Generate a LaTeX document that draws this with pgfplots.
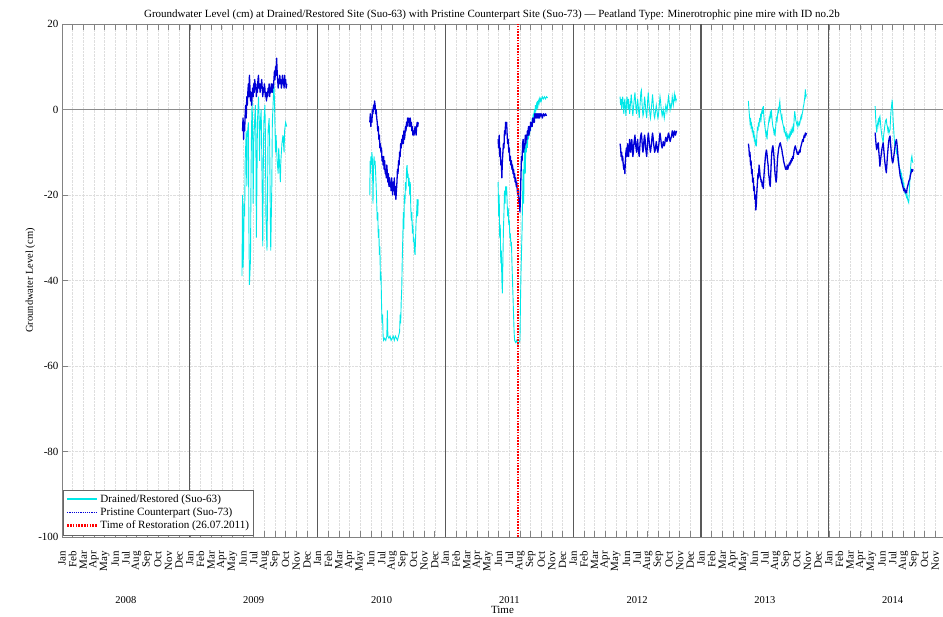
\documentclass[border=0pt]{standalone}
\usepackage{fontspec}
\setmainfont{Liberation Serif}
\usepackage{pgfplots}
\pgfplotsset{compat=1.18}
\definecolor{cyanc}{RGB}{0,232,232}
\definecolor{bluec}{RGB}{0,0,215}
\definecolor{axg}{RGB}{130,130,130}
\begin{document}
\begin{tikzpicture}
\useasboundingbox (0,0) rectangle (943pt,617pt);
\begin{axis}[
  at={(62pt,80pt)}, anchor=south west,
  scale only axis, width=881pt, height=513pt,
  xmin=0, xmax=82.723, ymin=-100, ymax=20,
  clip mode=individual,
  unbounded coords=jump,
  axis x line*=box, axis y line*=left,
  axis line style={axg, line width=0.9pt},
  every tick/.style={axg, line width=0.6pt},
  major tick length=6pt,
  tick align=inside,
  xtick={0,...,82}, ytick={-100,-80,...,20},
  xticklabels={Jan,Feb,Mar,Apr,May,Jun,Jul,Aug,Sep,Oct,Nov,Dec,Jan,Feb,Mar,Apr,May,Jun,Jul,Aug,Sep,Oct,Nov,Dec,Jan,Feb,Mar,Apr,May,Jun,Jul,Aug,Sep,Oct,Nov,Dec,Jan,Feb,Mar,Apr,May,Jun,Jul,Aug,Sep,Oct,Nov,Dec,Jan,Feb,Mar,Apr,May,Jun,Jul,Aug,Sep,Oct,Nov,Dec,Jan,Feb,Mar,Apr,May,Jun,Jul,Aug,Sep,Oct,Nov,Dec,Jan,Feb,Mar,Apr,May,Jun,Jul,Aug,Sep,Oct,Nov,Dec},
  xticklabel style={rotate=90, anchor=east, font=\fontsize{11}{11}\selectfont, inner sep=0pt, xshift=-14pt},
  yticklabel style={font=\fontsize{11}{11}\selectfont},
  /pgf/number format/assume math mode=true,
  grid=major,
  major grid style={densely dotted, black!13, line width=0.5pt},
  extra x ticks={12,24,36,48,60,72}, extra x tick labels={},
  extra x tick style={grid=major, major grid style={solid, black!65, line width=1.1pt}, major tick length=0pt},
  extra y ticks={0}, extra y tick labels={},
  extra y tick style={grid=major, major grid style={solid, black!45, line width=0.8pt}, major tick length=0pt},
  ylabel={Groundwater Level (cm)},
  ylabel style={at={(axis description cs:-0.036,0.5)}, anchor=center, font=\fontsize{10.5}{10.5}\selectfont},
  legend cell align=left,
  legend style={at={(rel axis cs:0.0015,0.004)}, anchor=south west, font=\fontsize{11.1}{13.5}\selectfont, draw=black!60, inner sep=2.5pt, row sep=0pt, fill=white},
]
% Drained/Restored (Suo-63)
\addplot[cyanc, line width=0.9pt, legend image code/.code={\draw[cyanc, line width=1.5pt] (0pt,0.3pt) -- (30pt,0.3pt);}] coordinates {
(16.9,-39) (16.95,-20) (17.0,-37) (17.05,-33) (17.1,-22) (17.15,-25) (17.2,-12) (17.3,-5) (17.35,-18) (17.4,-6) (17.5,-3) (17.55,-28) (17.6,-41) (17.7,-35) (17.75,-15) (17.8,-4) (17.85,2) (17.9,-5) (17.95,-22) (18.0,-8) (18.1,-2) (18.15,1) (18.2,-6) (18.25,-30) (18.3,-18) (18.35,-3) (18.45,3) (18.5,-1) (18.55,-12) (18.6,-4) (18.7,0) (18.75,-9) (18.8,-20) (18.85,-32) (18.9,-14) (18.95,-3) (19.05,1) (19.1,-6) (19.15,-25) (19.25,-33) (19.3,-20) (19.35,-5) (19.45,-2) (19.5,-8) (19.55,-22) (19.6,-33) (19.7,-18) (19.75,-3) (19.85,3) (19.9,6) (19.95,2) (20.0,-4) (20.05,-10) (20.1,-6) (20.2,-12) (20.3,-15) (20.35,-9) (20.45,-14) (20.5,-17) (20.55,-12) (20.65,-8) (20.75,-6) (20.85,-10) (20.9,-5) (21.0,-3) (21.1,-4)
(21.2,nan)
(28.9,-20) (28.93,-12) (28.97,-15) (29.0,-11) (29.05,-13) (29.1,-10) (29.15,-12) (29.2,-22) (29.25,-14) (29.3,-11) (29.35,-13) (29.4,-12) (29.45,-15) (29.5,-18) (29.55,-22) (29.6,-26) (29.65,-24) (29.7,-30) (29.75,-28) (29.8,-34) (29.85,-32) (29.9,-40) (29.95,-38) (30.0,-45) (30.05,-50) (30.1,-48) (30.15,-53) (30.2,-54) (30.3,-53.5) (30.4,-54) (30.5,-53) (30.55,-47) (30.6,-53) (30.7,-53.5) (30.8,-53) (30.9,-54) (31.0,-53.5) (31.1,-53) (31.2,-54) (31.3,-53) (31.4,-53.5) (31.5,-54) (31.6,-53) (31.7,-52) (31.75,-48) (31.8,-50) (31.85,-45) (31.9,-42) (31.95,-35) (32.0,-30) (32.05,-24) (32.1,-28) (32.15,-20) (32.2,-22) (32.25,-17) (32.3,-19) (32.35,-14) (32.4,-13) (32.45,-16) (32.5,-15) (32.55,-18) (32.6,-16) (32.65,-20) (32.7,-17) (32.75,-23) (32.8,-26) (32.85,-24) (32.9,-29) (32.95,-27) (33.0,-31) (33.05,-30) (33.1,-33) (33.15,-34) (33.2,-30) (33.25,-26) (33.3,-24) (33.35,-21) (33.4,-25) (33.45,-21)
(33.5,nan)
(40.95,-17) (41.0,-25) (41.05,-20) (41.1,-30) (41.15,-27) (41.2,-36) (41.25,-33) (41.3,-40) (41.35,-43) (41.4,-35) (41.45,-28) (41.5,-24) (41.55,-19) (41.6,-22) (41.65,-18) (41.7,-20) (41.75,-18) (41.8,-22) (41.85,-25) (41.9,-23) (41.95,-27) (42.0,-26) (42.05,-30) (42.1,-29) (42.15,-32) (42.2,-31) (42.25,-36) (42.3,-40) (42.35,-44) (42.4,-48) (42.45,-52) (42.5,-54) (42.6,-54.5) (42.7,-54) (42.8,-55) (42.9,-54.5) (43.0,-54) (43.05,-45) (43.1,-38) (43.15,-33) (43.2,-28) (43.25,-20) (43.3,-14) (43.35,-22) (43.4,-12) (43.45,-9) (43.5,-15) (43.55,-8) (43.6,-10) (43.65,-7) (43.7,-9) (43.75,-6) (43.8,-7) (43.85,-5) (43.9,-6) (43.95,-4) (44.0,-5) (44.05,-3) (44.1,-4) (44.15,-2) (44.2,-3) (44.25,-1) (44.3,-2) (44.35,0) (44.4,-1) (44.45,1) (44.5,0) (44.55,1) (44.6,0) (44.65,2) (44.7,1) (44.75,2) (44.8,1.5) (44.85,2.5) (44.9,2) (44.95,2.5) (45.0,2) (45.1,3) (45.2,2.5) (45.3,3) (45.4,2.5) (45.5,3) (45.6,2.7)
(45.7,nan)
(52.4,3) (52.45,1) (52.5,2.5) (52.55,0) (52.6,2) (52.65,3) (52.7,1) (52.75,-1) (52.8,1.5) (52.85,2.5) (52.9,0.5) (52.95,-1.5) (53.0,1) (53.05,3) (53.1,2) (53.15,0) (53.2,2.5) (53.25,1) (53.3,-1) (53.35,0.5) (53.4,2) (53.45,3.5) (53.5,2) (53.55,0) (53.6,-1.5) (53.65,0) (53.7,1.5) (53.75,3) (53.8,4) (53.85,2) (53.9,0) (53.95,-1) (54.0,1) (54.05,2.5) (54.1,1) (54.15,-0.5) (54.2,-2) (54.25,0) (54.3,2) (54.35,4) (54.4,4.5) (54.45,2) (54.5,0) (54.55,-1.5) (54.6,-1) (54.65,1) (54.7,3) (54.75,2) (54.8,0) (54.85,-1) (54.9,-2) (54.95,0) (55.0,2.5) (55.05,4) (55.1,2) (55.15,0.5) (55.2,-1) (55.25,-2) (55.3,-1) (55.35,0.5) (55.4,2) (55.45,3.5) (55.5,2) (55.55,0) (55.6,-1.5) (55.65,-2) (55.7,-1) (55.75,0) (55.8,1) (55.85,0) (55.9,-1) (55.95,-2) (56.0,-1.5) (56.05,0) (56.1,1.5) (56.15,3) (56.2,2) (56.25,0.5) (56.3,-0.5) (56.35,-1.5) (56.4,-1) (56.45,0) (56.5,-1) (56.55,-2) (56.6,-1) (56.65,0) (56.7,1) (56.75,0.5) (56.8,-0.5) (56.85,0.5) (56.9,2) (56.95,3) (57.0,2) (57.05,1) (57.1,0) (57.15,1) (57.2,0.5) (57.25,1.5) (57.3,3) (57.35,2) (57.4,1) (57.45,2) (57.5,3.5) (57.55,2.5) (57.6,3) (57.65,2) (57.7,2.5)
(57.8,nan)
(64.45,2) (64.5,0) (64.55,-1.5) (64.6,-3) (64.65,-2) (64.7,-4) (64.75,-3.5) (64.8,-5) (64.85,-4.5) (64.9,-6) (64.95,-5.5) (65.0,-7) (65.05,-6.5) (65.1,-8) (65.15,-7.5) (65.2,-8.6) (65.25,-6) (65.3,-4) (65.35,-5) (65.4,-3) (65.45,-4) (65.5,-2) (65.55,-3) (65.6,-1) (65.65,-2) (65.7,-0.5) (65.75,0) (65.8,-1) (65.85,0.8) (65.9,-1.5) (65.95,-3) (66.0,-4) (66.05,-5) (66.1,-6) (66.15,-5.5) (66.2,-7) (66.25,-5) (66.3,-4) (66.35,-3) (66.4,-2) (66.45,-2.5) (66.5,-1) (66.55,-1.5) (66.6,0) (66.65,-1.5) (66.7,-3) (66.75,-4) (66.8,-4.5) (66.85,-5.5) (66.9,-5) (66.95,-6.2) (67.0,-4.5) (67.05,-3) (67.1,-2) (67.15,-2.5) (67.2,-1) (67.25,0) (67.3,-0.5) (67.35,1) (67.4,1.9) (67.45,0) (67.5,-1) (67.55,-2) (67.6,-1.5) (67.65,-3) (67.7,-3.5) (67.75,-4) (67.8,-5) (67.85,-4.5) (67.9,-5.5) (67.95,-6) (68.0,-5.5) (68.05,-6.5) (68.1,-6) (68.15,-7) (68.2,-6.5) (68.25,-6) (68.3,-6.5) (68.35,-5.5) (68.4,-6) (68.45,-5) (68.5,-5.5) (68.55,-4.5) (68.6,-5) (68.65,-4) (68.7,-4.7) (68.75,-2) (68.8,-0.4) (68.85,-1.5) (68.9,-2.5) (68.95,-3) (69.0,-3.5) (69.05,-3) (69.1,-4) (69.15,-3.5) (69.2,-3) (69.25,-3.5) (69.3,-3) (69.35,-2) (69.4,-1.5) (69.45,-2) (69.5,-1) (69.55,-0.5) (69.6,0.5) (69.65,1) (69.7,2) (69.75,3) (69.8,4.7) (69.85,3) (69.9,3.5)
(70.0,nan)
(76.35,0.8) (76.4,-2) (76.45,-4) (76.5,-5.4) (76.55,-4) (76.6,-3) (76.65,-2.5) (76.7,-3.5) (76.75,-2) (76.8,-1.6) (76.85,-3) (76.9,-4.5) (76.95,-5.5) (77.0,-6.5) (77.05,-7) (77.1,-7.8) (77.15,-6) (77.2,-5) (77.25,-4) (77.3,-3) (77.35,-2.5) (77.4,-2.3) (77.45,-3.5) (77.5,-4) (77.55,-5) (77.6,-4.5) (77.65,-5.5) (77.7,-5) (77.75,-4.7) (77.8,-2) (77.85,0) (77.9,1) (77.95,2.3) (78.0,0) (78.05,-3) (78.1,-5) (78.15,-7) (78.2,-8.6) (78.25,-7.5) (78.3,-9) (78.35,-10) (78.4,-9.5) (78.45,-11) (78.5,-12) (78.55,-11.5) (78.6,-13) (78.65,-14) (78.7,-15) (78.75,-14.5) (78.8,-16.4) (78.85,-15.5) (78.9,-17) (78.95,-16.5) (79.0,-18) (79.05,-17.5) (79.1,-19) (79.15,-19.5) (79.2,-19) (79.25,-20) (79.3,-20.5) (79.35,-20) (79.4,-21) (79.45,-21.5) (79.5,-21.8) (79.55,-20) (79.6,-17) (79.65,-15) (79.7,-13) (79.75,-11.5) (79.8,-10.9) (79.85,-12) (79.9,-12.5)
};
\addlegendentry{Drained/Restored (Suo-63)}
% Pristine Counterpart (Suo-73)
\addplot[bluec, line width=1.3pt, line join=round, legend image code/.code={\draw[bluec, densely dotted, line width=1.2pt] (0pt,0pt) -- (30pt,0pt);}] coordinates {
(16.95,-5) (17.0,-2) (17.05,-7) (17.1,-3) (17.15,-5) (17.2,-1) (17.25,1) (17.3,-2) (17.35,3) (17.4,1) (17.45,4) (17.5,6) (17.55,3) (17.6,8) (17.65,5) (17.7,2) (17.75,4) (17.8,1) (17.85,3) (17.9,5) (17.95,3) (18.0,6) (18.05,4) (18.1,7) (18.15,5) (18.2,6) (18.25,3) (18.3,5) (18.35,4) (18.4,7) (18.45,8) (18.5,5) (18.55,6) (18.6,4) (18.65,6) (18.7,5) (18.75,7) (18.8,5) (18.85,3) (18.9,5) (18.95,4) (19.0,6) (19.05,5) (19.1,3) (19.15,4) (19.2,2) (19.25,4) (19.3,3) (19.35,5) (19.4,4) (19.45,6) (19.5,3) (19.55,5) (19.6,4) (19.65,6) (19.7,5) (19.75,4) (19.8,6) (19.85,5) (19.9,7) (19.95,9) (20.0,7) (20.05,10) (20.1,8) (20.15,12) (20.2,9) (20.25,7) (20.3,5) (20.35,7) (20.4,6) (20.45,8) (20.5,6) (20.55,7) (20.6,5) (20.65,6) (20.7,8) (20.75,6) (20.8,7) (20.85,5) (20.9,8) (20.95,6) (21.0,7) (21.05,5) (21.1,6)
(21.2,nan)
(28.9,-3) (28.95,-1) (29.0,-4) (29.05,-2) (29.1,-3) (29.15,0) (29.2,-1) (29.25,1) (29.3,0) (29.35,2) (29.4,1) (29.45,-1) (29.5,0) (29.55,-2) (29.6,-3) (29.65,-5) (29.7,-4) (29.75,-7) (29.8,-6) (29.85,-9) (29.9,-8) (29.95,-10) (30.0,-9) (30.05,-12) (30.1,-11) (30.15,-13) (30.2,-11) (30.25,-14) (30.3,-12) (30.35,-15) (30.4,-14) (30.45,-16) (30.5,-13) (30.55,-15) (30.6,-17) (30.65,-15) (30.7,-18) (30.75,-16) (30.8,-18) (30.85,-17) (30.9,-19) (30.95,-16) (31.0,-18) (31.05,-20) (31.1,-17) (31.15,-19) (31.2,-16) (31.25,-20) (31.3,-18) (31.35,-21) (31.4,-19) (31.45,-17) (31.5,-14) (31.55,-15) (31.6,-12) (31.65,-13) (31.7,-10) (31.75,-11) (31.8,-8) (31.85,-9) (31.9,-7) (31.95,-8) (32.0,-6) (32.05,-8) (32.1,-5) (32.15,-7) (32.2,-6) (32.25,-4) (32.3,-5) (32.35,-3) (32.4,-4) (32.45,-2) (32.5,-3) (32.55,-2) (32.6,-4) (32.65,-3) (32.7,-2) (32.75,-4) (32.8,-3) (32.85,-5) (32.9,-4) (32.95,-6) (33.0,-5) (33.05,-6) (33.1,-5) (33.15,-4) (33.2,-5) (33.25,-6) (33.3,-4) (33.35,-3) (33.4,-4) (33.45,-3)
(33.5,nan)
(40.95,-7) (41.0,-9) (41.05,-6) (41.1,-11) (41.15,-9) (41.2,-13) (41.25,-12) (41.3,-16) (41.35,-12) (41.4,-10) (41.45,-8) (41.5,-9) (41.55,-5) (41.6,-6) (41.65,-3) (41.7,-4) (41.75,-3) (41.8,-6) (41.85,-8) (41.9,-7) (41.95,-10) (42.0,-9) (42.05,-12) (42.1,-11) (42.15,-13) (42.2,-12) (42.25,-14) (42.3,-13) (42.35,-15) (42.4,-14) (42.45,-16) (42.5,-15) (42.55,-17) (42.6,-16) (42.65,-18) (42.7,-17) (42.75,-19) (42.8,-20) (42.85,-19) (42.9,-22) (42.95,-21) (43.0,-24) (43.05,-20) (43.1,-15) (43.15,-11) (43.2,-12) (43.25,-8) (43.3,-7) (43.35,-10) (43.4,-8) (43.45,-9) (43.5,-6) (43.55,-8) (43.6,-6) (43.65,-7) (43.7,-5) (43.75,-6) (43.8,-4) (43.85,-6) (43.9,-4) (43.95,-5) (44.0,-3) (44.05,-4) (44.1,-3) (44.15,-4) (44.2,-2) (44.25,-3) (44.3,-2) (44.35,-3) (44.4,-1) (44.45,-2) (44.5,-1) (44.55,-2) (44.6,-1) (44.65,-2) (44.7,-1) (44.75,-2) (44.8,-1) (44.85,-2) (44.9,-1) (44.95,-1.5) (45.0,-1) (45.1,-2) (45.2,-1) (45.3,-1.5) (45.4,-1) (45.5,-1.5)
(45.7,nan)
(52.4,-8) (52.45,-9) (52.5,-11) (52.55,-10) (52.6,-12) (52.65,-11) (52.7,-13) (52.75,-14) (52.8,-13) (52.85,-15) (52.9,-12) (52.95,-10) (53.0,-9) (53.05,-11) (53.1,-8) (53.15,-10) (53.2,-11) (53.25,-9) (53.3,-7) (53.35,-9) (53.4,-10) (53.45,-8) (53.5,-7) (53.55,-9) (53.6,-11) (53.65,-10) (53.7,-8) (53.75,-7) (53.8,-6) (53.85,-8) (53.9,-9) (53.95,-10) (54.0,-8) (54.05,-7) (54.1,-9) (54.15,-10) (54.2,-11) (54.25,-9) (54.3,-7) (54.35,-6) (54.4,-5.5) (54.45,-7) (54.5,-9) (54.55,-10) (54.6,-9) (54.65,-7) (54.7,-6) (54.75,-7) (54.8,-9) (54.85,-10) (54.9,-11) (54.95,-9) (55.0,-7) (55.05,-5.5) (55.1,-6.5) (55.15,-8) (55.2,-9) (55.25,-10) (55.3,-9) (55.35,-8) (55.4,-6.5) (55.45,-5.5) (55.5,-6.5) (55.55,-8) (55.6,-9) (55.65,-10) (55.7,-9.5) (55.75,-8.5) (55.8,-7.5) (55.85,-8.5) (55.9,-9.5) (55.95,-10) (56.0,-9) (56.05,-8) (56.1,-6.5) (56.15,-5.5) (56.2,-6.5) (56.25,-7.5) (56.3,-8.5) (56.35,-9) (56.4,-8.5) (56.45,-7.5) (56.5,-8) (56.55,-8.5) (56.6,-8) (56.65,-7) (56.7,-6.5) (56.75,-7) (56.8,-7.5) (56.85,-7) (56.9,-6) (56.95,-5.5) (57.0,-6) (57.05,-7) (57.1,-7.5) (57.15,-7) (57.2,-6.5) (57.25,-6) (57.3,-5) (57.35,-5.5) (57.4,-6.5) (57.45,-6) (57.5,-5) (57.55,-5.5) (57.6,-6) (57.65,-5.5) (57.7,-5)
(57.8,nan)
(64.45,-8) (64.5,-9) (64.55,-11) (64.6,-10) (64.65,-13) (64.7,-12) (64.75,-15) (64.8,-14) (64.85,-17) (64.9,-16) (64.95,-19) (65.0,-18) (65.05,-21) (65.1,-20) (65.15,-23.5) (65.2,-22) (65.25,-19) (65.3,-17) (65.35,-15) (65.4,-16) (65.45,-13) (65.5,-14) (65.55,-15.5) (65.6,-16) (65.65,-17) (65.7,-16.5) (65.75,-18) (65.8,-17) (65.85,-18.5) (65.9,-16) (65.95,-14) (66.0,-12.5) (66.05,-11) (66.1,-10) (66.15,-9.5) (66.2,-10.5) (66.25,-12) (66.3,-13) (66.35,-15) (66.4,-16) (66.45,-17.5) (66.5,-18) (66.55,-15) (66.6,-12) (66.65,-10) (66.7,-9) (66.75,-8.5) (66.8,-9.5) (66.85,-11) (66.9,-13) (66.95,-15) (67.0,-16) (67.05,-17) (67.1,-16) (67.15,-13) (67.2,-11) (67.25,-10) (67.3,-9) (67.35,-8.5) (67.4,-8) (67.45,-7.8) (67.5,-8.5) (67.55,-9) (67.6,-9.5) (67.65,-10.5) (67.7,-11) (67.75,-12) (67.8,-12.5) (67.85,-13) (67.9,-13.5) (67.95,-14) (68.0,-13.5) (68.05,-14) (68.1,-13) (68.15,-14) (68.2,-13.5) (68.25,-13) (68.3,-12.5) (68.35,-13) (68.4,-12) (68.45,-12.5) (68.5,-11.5) (68.55,-12) (68.6,-11) (68.65,-11.5) (68.7,-10.5) (68.75,-9.5) (68.8,-9) (68.85,-8.5) (68.9,-9) (68.95,-9.5) (69.0,-10) (69.05,-10.5) (69.1,-10) (69.15,-10.5) (69.2,-10) (69.25,-9.5) (69.3,-10) (69.35,-9) (69.4,-8.5) (69.45,-8) (69.5,-7.5) (69.55,-7) (69.6,-7.5) (69.65,-6.5) (69.7,-6) (69.75,-6.5) (69.8,-5.5) (69.85,-6) (69.9,-5.5)
(70.0,nan)
(76.35,-5.4) (76.4,-7) (76.45,-8.5) (76.5,-9.4) (76.55,-8.5) (76.6,-8) (76.65,-7.8) (76.7,-10) (76.75,-11.5) (76.8,-13.3) (76.85,-12) (76.9,-11) (76.95,-10) (77.0,-9) (77.05,-8.5) (77.1,-7.8) (77.15,-9) (77.2,-10.5) (77.25,-12) (77.3,-13) (77.35,-14) (77.4,-14.8) (77.45,-13) (77.5,-11) (77.55,-9.5) (77.6,-8) (77.65,-7) (77.7,-6.5) (77.75,-6.2) (77.8,-8) (77.85,-9.5) (77.9,-11) (77.95,-12) (78.0,-12.5) (78.05,-12) (78.1,-11) (78.15,-10) (78.2,-9) (78.25,-8) (78.3,-7.5) (78.35,-7) (78.4,-8) (78.45,-9.5) (78.5,-11) (78.55,-12.5) (78.6,-13.5) (78.65,-14.5) (78.7,-15.5) (78.75,-16) (78.8,-16.4) (78.85,-17) (78.9,-17.5) (78.95,-18) (79.0,-18.5) (79.05,-19) (79.1,-18.5) (79.15,-19) (79.2,-19.5) (79.25,-19) (79.3,-19.5) (79.35,-18.5) (79.4,-18) (79.45,-17.5) (79.5,-17) (79.55,-16.5) (79.6,-16.4) (79.65,-15.5) (79.7,-15) (79.75,-14.5) (79.8,-14) (79.85,-14.5) (79.9,-14)
};
\addlegendentry{Pristine Counterpart (Suo-73)}
% Time of restoration 26.07.2011
\addplot[red, line width=2.4pt, dash pattern=on 1.6pt off 1.2pt, legend image code/.code={\draw[red, line width=2.4pt, dash pattern=on 1.6pt off 1.2pt] (0pt,0pt) -- (30pt,0pt);}] coordinates {(42.81,-100) (42.81,20)};
\addlegendentry{Time of Restoration (26.07.2011)}
% labels
\node[font=\fontsize{11}{11}\selectfont] at (rel axis cs:0.488,1) [yshift=9pt] {Groundwater Level (cm) at Drained/Restored Site (Suo-63) with Pristine Counterpart Site (Suo-73) --- Peatland Type: Minerotrophic pine mire with ID no.2b};
\node[font=\fontsize{10.5}{10.5}\selectfont] at (axis cs:6,-100) [yshift=-63pt] {2008};
\node[font=\fontsize{10.5}{10.5}\selectfont] at (axis cs:18,-100) [yshift=-63pt] {2009};
\node[font=\fontsize{10.5}{10.5}\selectfont] at (axis cs:30,-100) [yshift=-63pt] {2010};
\node[font=\fontsize{10.5}{10.5}\selectfont] at (axis cs:42,-100) [yshift=-63pt] {2011};
\node[font=\fontsize{10.5}{10.5}\selectfont] at (axis cs:54,-100) [yshift=-63pt] {2012};
\node[font=\fontsize{10.5}{10.5}\selectfont] at (axis cs:66,-100) [yshift=-63pt] {2013};
\node[font=\fontsize{10.5}{10.5}\selectfont] at (axis cs:78,-100) [yshift=-63pt] {2014};
\node[font=\fontsize{11}{11}\selectfont] at (rel axis cs:0.5,0) [yshift=-72.5pt] {Time};
\end{axis}
\end{tikzpicture}
\end{document}
